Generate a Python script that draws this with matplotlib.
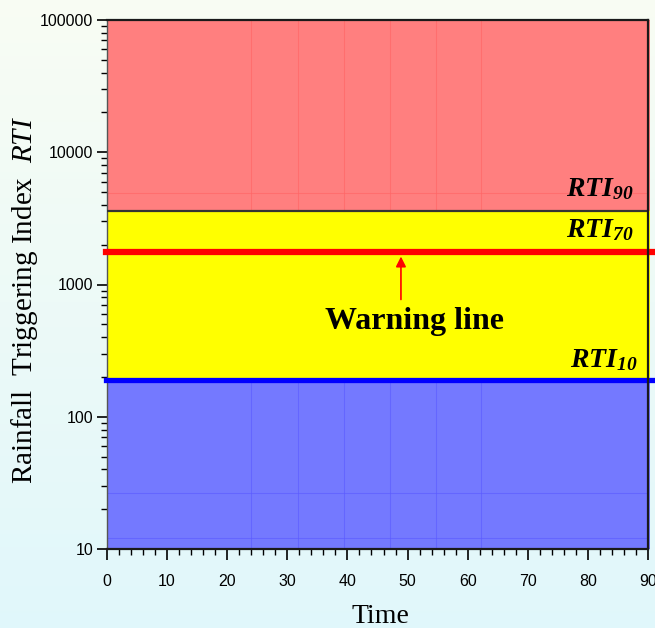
import numpy as np
import matplotlib
matplotlib.use("Agg")
import matplotlib.pyplot as plt
from matplotlib.ticker import FixedLocator, FuncFormatter, MultipleLocator, LogLocator, NullFormatter

plt.rcParams["mathtext.fontset"] = "custom"
plt.rcParams["mathtext.rm"] = "Liberation Serif"
plt.rcParams["mathtext.it"] = "Liberation Serif:italic"
plt.rcParams["mathtext.bf"] = "Liberation Serif:bold:italic"

tick_family, tick_size = "Liberation Sans", 11.5

# threshold levels of the rainfall triggering index
rti_levels = {"RTI10": 190, "RTI70": 1750, "RTI90": 3600}
y_limits = [10, 100000]
x_limits = [0, 90]
x_ticks = [0, 10, 20, 30, 40, 50, 60, 70, 80, 90]
y_ticks = [10, 100, 1000, 10000, 100000]

# faint reference grid inside the shaded zones
guide_x = [24, 31.8, 39.4, 47.1, 54.8, 62.3]
guide_y_high = [4890]
guide_y_low = [12.1, 26.6]

fig = plt.figure(figsize=(6.55, 6.28), dpi=100)

# soft background gradient
bg = fig.add_axes([0, 0, 1, 1], zorder=-10)
top = np.array([0.975, 0.99, 0.955])
bot = np.array([0.88, 0.97, 0.985])
t = np.linspace(0, 1, 256)[:, None]
grad = top[None, :] * (1 - t) + bot[None, :] * t
bg.imshow(np.repeat(grad[:, None, :], 4, axis=1), aspect="auto", extent=[0, 1, 0, 1])
bg.axis("off")

ax = fig.add_axes([107 / 655, 79 / 628, 541 / 655, 529 / 628])
ax.set_yscale("log")
ax.set_xlim(*x_limits)
ax.set_ylim(*y_limits)
ax.patch.set_alpha(0)

r10, r70, r90 = rti_levels["RTI10"], rti_levels["RTI70"], rti_levels["RTI90"]
red_c, yel_c, blue_c = "#ff7f7f", "#ffff00", "#7479ff"
ax.fill_between([0, 90.3], r90, y_limits[1], color=red_c, lw=0, zorder=1, clip_on=False)
ax.fill_between([0, 90.3], r10, r90, color=yel_c, lw=0, zorder=1, clip_on=False)
ax.fill_between([0, 90.3], y_limits[0], r10, color=blue_c, lw=0, zorder=1, clip_on=False)

for gx in guide_x:
    ax.plot([gx, gx], [r90, y_limits[1]], color="#ff6464", lw=0.8, alpha=0.6, zorder=2)
    ax.plot([gx, gx], [y_limits[0], r10], color="#5a5aff", lw=0.8, alpha=0.6, zorder=2)
for gy in guide_y_high:
    ax.plot(x_limits, [gy, gy], color="#ff6464", lw=0.8, alpha=0.6, zorder=2)
for gy in guide_y_low:
    ax.plot(x_limits, [gy, gy], color="#5a5aff", lw=0.8, alpha=0.6, zorder=2)

# threshold lines
ax.plot(x_limits, [r90, r90], color="#333333", lw=1.6, zorder=3)
ax.plot([-0.2, 91.3], [r70, r70], color="#ff0000", lw=4.5, zorder=4, clip_on=False)
ax.plot([-0.2, 91.3], [r10, r10], color="#0000ff", lw=3.8, zorder=4, clip_on=False)

label_kw = dict(fontsize=20, ha="right", va="baseline", color="black", zorder=5)
ax.text(87.6, 4640, r"$\mathbf{RTI_{90}}$", **label_kw)
ax.text(87.6, 2270, r"$\mathbf{RTI_{70}}$", **label_kw)
ax.text(88.3, 239, r"$\mathbf{RTI_{10}}$", **label_kw)

ax.annotate("", xy=(48.9, r70 * 0.93), xytext=(48.9, 770),
            arrowprops=dict(arrowstyle="-|>", color="#ff0000", lw=1.2,
                            mutation_scale=15, shrinkA=0, shrinkB=0), zorder=5)
ax.text(51.2, 464, "Warning line", fontsize=23, fontweight="bold",
        family="Liberation Serif", ha="center", va="baseline", zorder=5)

# axes styling
ax.xaxis.set_major_locator(FixedLocator(x_ticks))
ax.xaxis.set_minor_locator(MultipleLocator(2))
ax.yaxis.set_major_locator(FixedLocator(y_ticks))
ax.yaxis.set_minor_locator(LogLocator(base=10, subs=np.arange(2, 10)))
ax.yaxis.set_minor_formatter(NullFormatter())
ax.yaxis.set_major_formatter(FuncFormatter(lambda v, p: f"{int(round(v))}"))

ax.tick_params(axis="x", which="major", length=8, width=1.2, pad=10,
               labelsize=tick_size, direction="out")
ax.tick_params(axis="x", which="minor", length=4, width=1.0, direction="out")
ax.tick_params(axis="y", which="major", length=7, width=1.2, pad=3,
               labelsize=tick_size, direction="out")
ax.tick_params(axis="y", which="minor", length=4, width=1.0, direction="out")
for lab in ax.get_xticklabels() + ax.get_yticklabels():
    lab.set_family(tick_family)

for side in ["top", "bottom", "right"]:
    ax.spines[side].set_color("#1a1a1a")
    ax.spines[side].set_linewidth(1.6)
    ax.spines[side].set_zorder(6)
ax.spines["left"].set_color("#555555")
ax.spines["left"].set_linewidth(1.0)

ax.set_xlabel("Time", fontsize=20, family="Liberation Serif")
ax.xaxis.set_label_coords(0.505, -0.104)
ax.set_ylabel(r"Rainfall  Triggering Index  $\mathit{RTI}$", fontsize=21,
              family="Liberation Serif")
ax.yaxis.set_label_coords(-0.124, 0.47)

fig.savefig("out.png", dpi=100)
